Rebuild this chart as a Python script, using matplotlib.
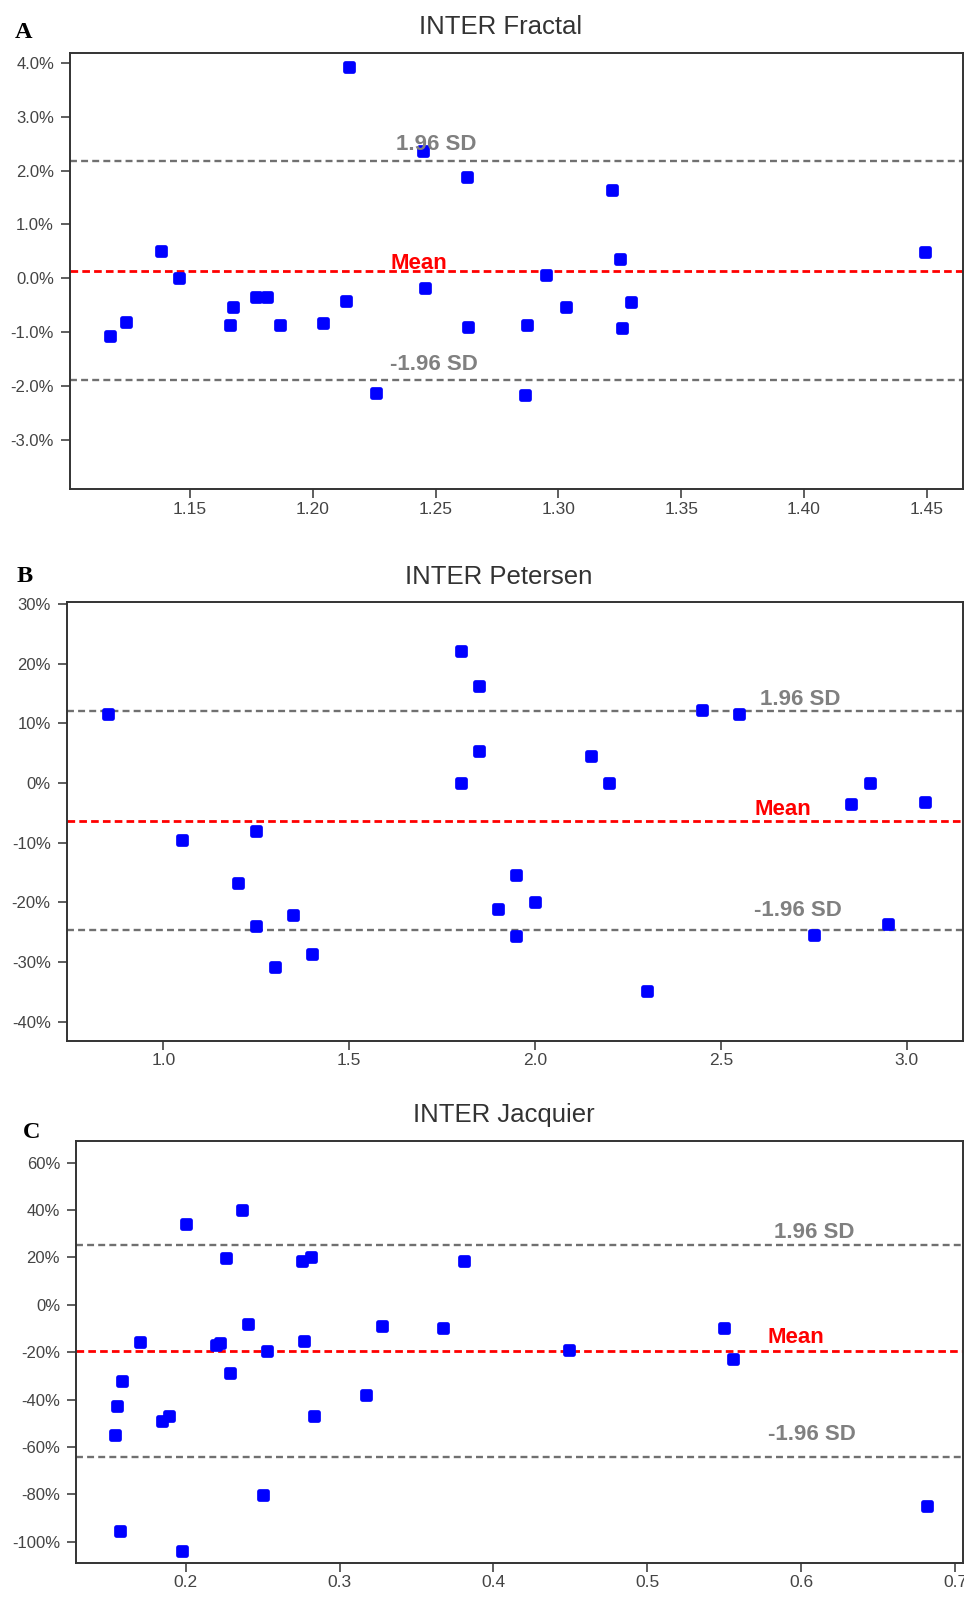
import matplotlib
matplotlib.use("Agg")
import matplotlib.pyplot as plt
from matplotlib.markers import MarkerStyle
from matplotlib.ticker import PercentFormatter

plt.rcParams["font.family"] = ["Liberation Sans", "DejaVu Sans"]
plt.rcParams["axes.unicode_minus"] = False
plt.rcParams["lines.scale_dashes"] = False

# Panel A: INTER Fractal (mean of the two raters vs. difference in %)
fractal_mean = [1.1173, 1.1238, 1.1382, 1.1454, 1.1663, 1.1676, 1.1767, 1.1814, 1.1866,
                1.2043, 1.2146, 1.2135, 1.2257, 1.2450, 1.2455, 1.2626, 1.2633, 1.2872,
                1.2865, 1.2951, 1.3030, 1.3218, 1.3251, 1.3258, 1.3297, 1.4493]
fractal_diff = [-1.07, -0.81, 0.51, 0.00, -0.87, -0.53, -0.36, -0.36, -0.87,
                -0.84, 3.92, -0.42, -2.13, 2.37, -0.19, 1.88, -0.90, -0.87,
                -2.18, 0.06, -0.53, 1.64, 0.35, -0.93, -0.45, 0.48]
fractal_lines = [0.136, 2.17, -1.894]  # mean, +1.96 SD, -1.96 SD

# Panel B: INTER Petersen
petersen_mean = [0.85, 1.05, 1.20, 1.25, 1.25, 1.30, 1.35, 1.40, 1.80, 1.85, 1.85, 1.80,
                 1.90, 1.95, 2.00, 1.95, 2.15, 2.20, 2.30, 2.45, 2.55, 2.75, 2.85, 2.90,
                 2.95, 3.05]
petersen_diff = [11.6, -9.5, -16.8, -8.1, -24.0, -30.8, -22.2, -28.7, 22.2, 16.2, 5.4, 0.0,
                 -21.1, -15.4, -20.0, -25.7, 4.6, 0.0, -34.9, 12.2, 11.6, -25.4, -3.5, 0.0,
                 -23.7, -3.2]
petersen_lines = [-6.32, 12.0, -24.7]

# Panel C: INTER Jacquier
jacquier_mean = [0.1542, 0.1553, 0.1586, 0.1575, 0.1701, 0.1846, 0.1889, 0.1978, 0.2000,
                 0.2197, 0.2223, 0.2262, 0.2290, 0.2366, 0.2405, 0.2500, 0.2528, 0.2756,
                 0.2812, 0.2769, 0.2832, 0.3172, 0.3278, 0.3670, 0.3807, 0.4489, 0.5499,
                 0.5559, 0.6816]
jacquier_diff = [-55.0, -42.6, -32.1, -95.5, -15.6, -49.1, -47.1, -104.1, 34.1,
                 -17.0, -16.3, 19.7, -28.8, 40.0, -7.9, -80.5, -19.5, 18.3,
                 20.3, -15.2, -47.1, -38.0, -9.1, -9.7, 18.3, -19.0, -9.7,
                 -22.9, -85.1]
jacquier_lines = [-19.4, 25.3, -64.1]

W, H = 964, 1607
fig = plt.figure(figsize=(W / 100, H / 100), dpi=100)

panels = [
    dict(letter="A", title="INTER Fractal", x=fractal_mean, y=fractal_diff, lines=fractal_lines,
         box=(70, 52.7, 963, 489), xlim=(1.1011, 1.4648), ylim=(-3.92, 4.19),
         xticks=[1.15, 1.20, 1.25, 1.30, 1.35, 1.40, 1.45], xfmt="{:.2f}",
         yticks=[4, 3, 2, 1, 0, -1, -2, -3], ydec=1,
         label_x=1.2316, gaps=(2, 11, 10), letter_pos=(15, 38)),
    dict(letter="B", title="INTER Petersen", x=petersen_mean, y=petersen_diff, lines=petersen_lines,
         box=(66.7, 602.3, 963, 1040.7), xlim=(0.740, 3.1515), ylim=(-43.2, 30.28),
         xticks=[1.0, 1.5, 2.0, 2.5, 3.0], xfmt="{:.1f}",
         yticks=[30, 20, 10, 0, -10, -20, -30, -40], ydec=0,
         label_x=2.5905, gaps=(6, 6.7, 14.7), letter_pos=(16.7, 581.7)),
    dict(letter="C", title="INTER Jacquier", x=jacquier_mean, y=jacquier_diff, lines=jacquier_lines,
         box=(76, 1140.7, 963, 1562.7), xlim=(0.1287, 0.7052), ylim=(-108.9, 69.3),
         xticks=[0.2, 0.3, 0.4, 0.5, 0.6, 0.7], xfmt="{:.1f}",
         yticks=[60, 40, 20, 0, -20, -40, -60, -80, -100], ydec=0,
         label_x=0.5783, gaps=(7.7, 6.7, 16.7), letter_pos=(22.7, 1138.3)),
]

px = 0.72  # pixels -> points at 100 dpi
marker = MarkerStyle("s", joinstyle="round")

for p in panels:
    l, t, r, b = p["box"]
    ax = fig.add_axes([l / W, 1 - b / H, (r - l) / W, (b - t) / H])
    ax.set_xlim(*p["xlim"])
    ax.set_ylim(*p["ylim"])

    mean, up, lo = p["lines"]
    ax.axhline(up, color="#707070", lw=1.7, dashes=(5, 3), zorder=1)
    ax.axhline(lo, color="#707070", lw=1.7, dashes=(5, 3), zorder=1)
    ax.axhline(mean, color="#ff0000", lw=2.0, dashes=(5.5, 3), zorder=1)

    ax.plot(p["x"], p["y"], linestyle="none", marker=marker, markersize=5.2,
            markerfacecolor="#0000ff", markeredgecolor="#0000ff", markeredgewidth=3.4,
            zorder=2)

    g_mean, g_up, g_lo = p["gaps"]
    tkw = dict(textcoords="offset points", ha="left", va="baseline", fontsize=16,
               fontweight="bold", zorder=3)
    ax.annotate("1.96 SD", (p["label_x"], up), xytext=(6 * px, g_up * px),
                color="#808080", **tkw)
    ax.annotate("Mean", (p["label_x"], mean), xytext=(0, g_mean * px),
                color="#ff0000", **tkw)
    ax.annotate("-1.96 SD", (p["label_x"], lo), xytext=(0, g_lo * px),
                color="#808080", **tkw)

    ax.set_xticks(p["xticks"])
    ax.set_xticklabels([p["xfmt"].format(v) for v in p["xticks"]])
    ax.set_yticks(p["yticks"])
    ax.yaxis.set_major_formatter(PercentFormatter(xmax=100, decimals=p["ydec"]))

    ax.tick_params(axis="both", direction="out", length=6.5, width=1.1, color="#333333",
                   labelcolor="#444444", labelsize=12)
    ax.tick_params(axis="y", pad=5)
    ax.tick_params(axis="x", labelsize=12.5, pad=2.5)
    for s in ax.spines.values():
        s.set_linewidth(1.4)
        s.set_color("#333333")

    ax.set_title(p["title"], fontsize=18.5, color="#333333", x=0.482, pad=13.5)
    fig.text(p["letter_pos"][0] / W, 1 - p["letter_pos"][1] / H, p["letter"],
             family="Liberation Serif", fontweight="bold", fontsize=17.5,
             ha="left", va="baseline", color="black")

fig.savefig("out.png", dpi=100)
